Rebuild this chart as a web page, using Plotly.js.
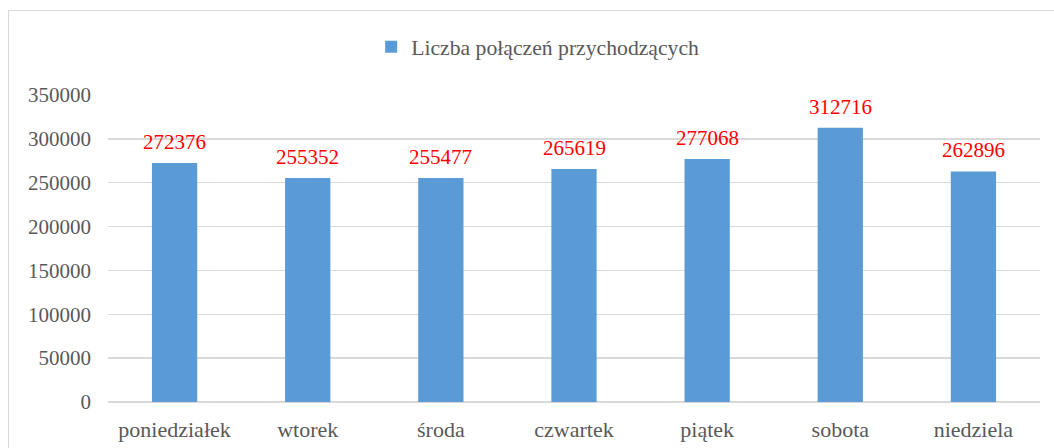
<!DOCTYPE html>
<html><head><meta charset="utf-8">
<script src="https://cdn.plot.ly/plotly-3.0.1.min.js"></script>
<style>body{margin:0;background:#fff;overflow:hidden}#wrap{position:relative;width:1054px;height:448px}
#frame{position:absolute;left:8px;top:10px;width:1060px;height:450px;border:1.5px solid #d9d9d9;pointer-events:none;box-sizing:border-box}</style>
</head><body><div id="wrap"><div id="chart" style="width:1054px;height:448px"></div><div id="frame"></div></div>
<script>
const days = ["poniedziałek","wtorek","środa","czwartek","piątek","sobota","niedziela"];
const calls = [272376,255352,255477,265619,277068,312716,262896];
const seriesName = "Liczba połączeń przychodzących";
const font = "Liberation Serif, Times New Roman, serif";
const labels = days.map((d,i)=>({x:d,y:calls[i],text:String(calls[i]),showarrow:false,yanchor:'bottom',yshift:7,
  font:{family:font,size:21,color:'#ff0000'}}));
Plotly.newPlot('chart',[{
  type:'bar', x:days, y:calls, name:seriesName,
  marker:{color:'#5b9bd5'}
}],{
  width:1054,height:448,
  margin:{l:108,r:14,t:95,b:46},
  paper_bgcolor:'rgba(0,0,0,0)',plot_bgcolor:'#fff',
  bargap:0.66,
  font:{family:font,size:21,color:'#595959'},
  showlegend:true,
  annotations:labels,
  legend:{orientation:'h',x:0.461,xanchor:'center',y:1.156,yanchor:'middle',itemwidth:30,font:{family:font,size:21.7,color:'#595959'}},
  xaxis:{showgrid:false,showline:false,ticks:'',zeroline:false,ticklabelstandoff:12,tickfont:{family:font,size:22,color:'#595959'}},
  yaxis:{range:[0,350000],dtick:50000,tickformat:'d',gridcolor:'#d9d9d9',gridwidth:1.5,zeroline:true,zerolinecolor:'#d9d9d9',zerolinewidth:1.5,ticks:'',ticklabelstandoff:16,tickfont:{family:font,size:21,color:'#595959'}}
},{staticPlot:true});
</script></body></html>
